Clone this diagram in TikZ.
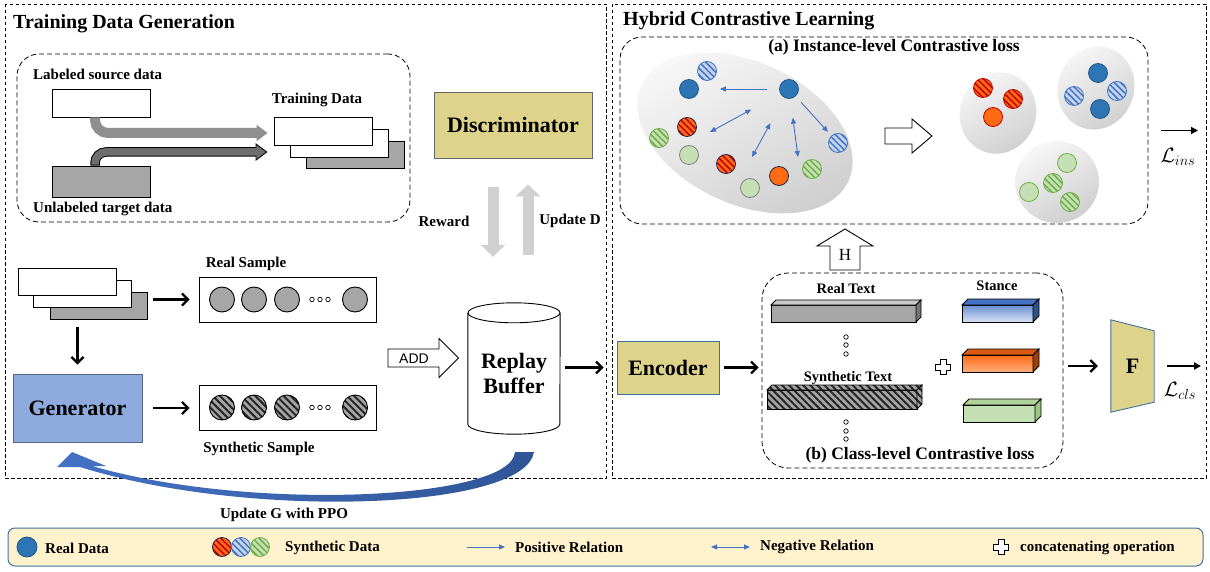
\documentclass[tikz,border=0pt]{standalone}
\usepackage{fontspec}
\setmainfont{Liberation Serif}
\newfontfamily\addfont{Liberation Sans}
\usetikzlibrary{arrows.meta, patterns.meta, calc}

\definecolor{khaki}{HTML}{DDD38B}
\definecolor{genblue}{HTML}{8FAADC}
\definecolor{sheetgray}{HTML}{A6A6A6}
\definecolor{lgray}{HTML}{8F8F8F}
\definecolor{dgray}{HTML}{6E6E6E}
\definecolor{arrowgray}{HTML}{D0D0D0}
\definecolor{realblue}{HTML}{2E75B6}
\definecolor{relblue}{HTML}{4472C4}
\definecolor{paleblue}{HTML}{C5D5EE}
\definecolor{synorange}{HTML}{FF6A13}
\definecolor{synred}{HTML}{C00000}
\definecolor{navy}{HTML}{1F2A50}
\definecolor{palegreen}{HTML}{C5E0B4}
\definecolor{leafgreen}{HTML}{70AD47}
\definecolor{legendfill}{HTML}{FFF2CC}
\definecolor{legendline}{HTML}{41719C}
\definecolor{swooshA}{HTML}{4472C4}
\definecolor{swooshB}{HTML}{2F5597}

\tikzset{
  panel/.style={draw, line width=0.8pt, dash pattern=on 3.5pt off 2.5pt},
  groupbox/.style={draw, line width=0.8pt, dash pattern=on 5pt off 3pt, rounded corners=22pt, inner sep=0pt},
  sheet/.style={draw, line width=0.9pt, fill=white, minimum width=98pt, minimum height=28pt, inner sep=0pt},
  graysheet/.style={sheet, fill=sheetgray},
  title/.style={font=\fontsize{20}{20}\selectfont\bfseries, anchor=base west, inner sep=0pt},
  lbl/.style={font=\fontsize{15}{15}\selectfont\bfseries, inner sep=0pt},
  smalllbl/.style={font=\fontsize{14.5}{14.5}\selectfont\bfseries, inner sep=0pt},
  caption/.style={font=\fontsize{17.5}{17.5}\selectfont\bfseries, inner sep=0pt},
  block/.style={draw=#1, line width=0.9pt, font=\fontsize{22}{25}\selectfont\bfseries, align=center, inner sep=0pt},
  conn/.style={line width=2.2pt, -{Straight Barb[length=6pt,width=12pt]}},
  lossarrow/.style={line width=1.8pt, -{Triangle[length=7pt,width=7pt]}},
  fatarrow/.style={line width=11pt, draw=arrowgray, -{Triangle[length=12pt,width=24pt]}},
  posrel/.style={draw=relblue, line width=0.9pt, -{Triangle[length=6pt,width=5pt]}},
  negrel/.style={draw=relblue, line width=0.9pt, {Triangle[length=6pt,width=5pt]}-{Triangle[length=6pt,width=5pt]}},
  dot/.style={circle, inner sep=0pt, minimum size=19pt, line width=0.8pt},
  hatchdot/.style n args={3}{dot, preaction={fill=#1}, pattern={Lines[angle=-45,distance=4.5pt,line width=1.5pt]}, pattern color=#2, draw=#3},
  realdot/.style={dot, fill=realblue, draw=realblue!75!black},
  bluesyn/.style={hatchdot={paleblue}{relblue}{relblue}},
  redsyn/.style={hatchdot={synorange}{synred}{navy}},
  orangedot/.style={dot, fill=synorange, draw=navy},
  greensyn/.style={hatchdot={palegreen}{leafgreen}{leafgreen}},
  greendot/.style={dot, fill=palegreen, draw=gray},
  grayhatch/.style={preaction={fill=sheetgray}, pattern={Lines[angle=-45,distance=5pt,line width=2pt]}, pattern color=black!85},
  sampledot/.style={circle, draw, line width=0.9pt, fill=sheetgray, minimum size=25pt, inner sep=0pt},
  synsampledot/.style={circle, draw, line width=0.9pt, grayhatch, minimum size=25pt, inner sep=0pt},
  tinydot/.style={circle, draw, line width=0.7pt, fill=white, minimum size=4.5pt, inner sep=0pt},
  blob/.style={top color=gray!6, bottom color=gray!38, shading angle=30},
  lossfont/.style={font=\fontsize{20}{20}\selectfont, inner sep=0pt},
}

% 3D bar: x, y, width, height, depth, front, top, side
\newcommand{\drawslab}[8]{%
  \draw[line width=0.8pt, #6] (#1,#2) rectangle ++(#3,#4);
  \draw[line width=0.8pt, #7] (#1,#2) -- ++(#5,-#5) -- ++(#3,0) -- ++(-#5,#5) -- cycle;
  \draw[line width=0.8pt, #8] (#1+#3,#2) -- ++(#5,-#5) -- ++(0,#4) -- ++(-#5,#5) -- cycle;
}
\newcommand{\plusmark}[2]{%
  \draw[line width=0.8pt, fill=white, shift={(#1,#2)}] (-3,-7.5) -- (3,-7.5) -- (3,-3) -- (7.5,-3) -- (7.5,3) -- (3,3)
    -- (3,7.5) -- (-3,7.5) -- (-3,3) -- (-7.5,3) -- (-7.5,-3) -- (-3,-3) -- cycle;
}

\begin{document}
\begin{tikzpicture}[x=1pt, y=-1pt]
  \useasboundingbox (0,0) rectangle (1210,572);

  % two panels
  \draw[panel] (5,4) rectangle (606,478);
  \draw[panel] (612,4) rectangle (1206,478);
  \node[title] (tdgtitle) at (13,29) {Training Data Generation};
  \node[title] (hcltitle) at (623,26) {Hybrid Contrastive Learning};

  % training data
  \node[groupbox, minimum width=393pt, minimum height=168pt] (tdgroup) at (213.5,138) {};
  \node[lbl, anchor=west] (lsrclbl) at (33,74) {Labeled source data};
  \node[sheet] (lsrc) at (101,103) {};
  \node[graysheet, minimum height=31pt] (utgt) at (101,181.5) {};
  \node[lbl, anchor=west] (utgtlbl) at (33,209) {Unlabeled target data};
  \node[graysheet, minimum height=27pt] (td3) at (355,154.5) {};
  \node[sheet] (td2) at (339,143) {};
  \node[sheet] (td1) at (323,131) {};
  \node[lbl] (tdlbl) at (317,100) {Training Data};
  \draw[line width=10pt, draw=lgray, rounded corners=13pt, -{Triangle[length=11pt,width=16pt]}, shorten >=6pt]
    ([xshift=-6pt]lsrc.south) |- (td1.west |- 0,133);
  \draw[line width=9.5pt, rounded corners=11pt, -{Triangle[length=12pt,width=17pt]}, shorten >=6pt]
    ([xshift=-6pt]utgt.north) |- (td1.west |- 0,152);
  \draw[line width=7.5pt, draw=dgray, rounded corners=11pt, -{Triangle[length=9.5pt,width=13.5pt]}, shorten >=7.7pt, shorten <=0.8pt]
    ([xshift=-6pt]utgt.north) |- (td1.west |- 0,152);

  % discriminator and buffer
  \node[block=black!60, fill=khaki, minimum width=158pt, minimum height=66pt] (disc) at (513,125) {Discriminator};
  \node[minimum width=92pt, minimum height=131pt, inner sep=0pt] (buf) at (514,368.5) {};
  \draw[line width=0.9pt, fill=white] ($(buf.north west)+(0,10)$) -- ($(buf.south west)+(0,-10)$)
    arc[start angle=180, end angle=0, x radius=46, y radius=10] -- ($(buf.north east)+(0,10)$);
  \draw[line width=0.9pt] ($(buf.north)+(0,10)$) ellipse [x radius=46, y radius=10];
  \node[block=none, draw=none] (buflbl) at (514,374) {Replay\\Buffer};
  \draw[fatarrow, shorten <=29pt, shorten >=46pt] ($(disc.south)+(-20,0)$) -- ($(disc.south |- buf.north)+(-20,0)$);
  \draw[fatarrow, shorten <=48pt, shorten >=26pt] ($(disc.south |- buf.north)+(15,0)$) -- ($(disc.south)+(15,0)$);
  \node[lbl] (rwlbl) at (444,221) {Reward};
  \node[lbl] (updlbl) at (570,221) {Update D};

  % samples
  \node[graysheet, minimum width=97pt, minimum height=27pt] (s3) at (98.5,305.5) {};
  \node[sheet, minimum height=27pt] (s2) at (82,293.5) {};
  \node[sheet, minimum height=27pt] (s1) at (67,281.5) {};
  \node[block=genblue!60!black, fill=genblue, minimum width=129pt, minimum height=68pt] (gen) at (77.5,408) {Generator};
  \node[draw, line width=0.9pt, minimum width=177pt, minimum height=45pt, inner sep=0pt] (realbox) at (287.5,299.5) {};
  \node[draw, line width=0.9pt, minimum width=177pt, minimum height=45pt, inner sep=0pt] (synbox) at (287.5,407.5) {};
  \node[lbl] (reallbl) at (246,264) {Real Sample};
  \node[lbl] (synlbl) at (259,449) {Synthetic Sample};
  \foreach \x [count=\i] in {222,254,287,355} {
    \node[sampledot] (rs\i) at (\x,299.5) {};
    \node[synsampledot] (ss\i) at (\x,407.5) {};
  }
  \foreach \x [count=\i] in {312,320,328} {
    \node[tinydot] (rd\i) at (\x,299.5) {};
    \node[tinydot] (sd\i) at (\x,407.5) {};
  }
  \draw[conn, shorten <=6pt, shorten >=9pt] (s3.east |- realbox.west) -- (realbox.west);
  \draw[conn, shorten <=8pt, shorten >=9pt] (s3.south -| gen.north) -- (gen.north);
  \draw[conn, shorten <=11pt, shorten >=9pt] (gen.east) -- (gen.east -| synbox.west);

  % ADD
  \draw[line width=0.9pt, fill=white] (388,349) -- (439,349) -- (439,338.5) -- (458.5,358) -- (439,377.5) -- (439,367) -- (388,367) -- cycle;
  \node[font=\addfont\fontsize{14}{14}\selectfont, inner sep=0pt] (addlbl) at (414,358.5) {ADD};

  % PPO update
  \shade[left color=swooshA, right color=swooshB] (534,452) .. controls (525,510) and (250,520) .. (80,467)
    -- (57,467) -- (72,452) -- (106,466) -- (92,466) .. controls (250,512) and (512,500) .. (515,452) -- cycle;
  \node[lbl] (ppolbl) at (284,515) {Update G with PPO};

  % instance-level
  \node[groupbox, minimum width=528pt, minimum height=187pt] (inst) at (884,130.5) {};
  \node[caption] (instlbl) at (894,47) {(a) Instance-level Contrastive loss};
  \shade[blob, rotate around={-25:(745,133)}] (745,133) ellipse [x radius=114, y radius=71];
  \node[bluesyn] (bh1) at (707,71) {};
  \node[realdot] (bs1) at (689,89) {};
  \node[realdot] (bs2) at (789,89) {};
  \node[redsyn] (rh1) at (687,127) {};
  \node[greensyn] (gh1) at (659,138) {};
  \node[greendot] (gs1) at (689,155) {};
  \node[redsyn] (rh2) at (726,164) {};
  \node[greendot] (gs2) at (750,188) {};
  \node[orangedot] (os1) at (779,176) {};
  \node[greensyn] (gh2) at (812,169) {};
  \node[bluesyn] (bh2) at (838,143) {};
  \coordinate (neg1) at (710,132);
  \coordinate (neg2) at (752,157);
  \coordinate (neg3) at (798,157);
  \draw[posrel, shorten <=12pt, shorten >=21pt] (bs2) -- (bs1);
  \draw[posrel, shorten <=8pt, shorten >=5pt] (bs2) -- (bh2);
  \draw[negrel, shorten <=33pt] (bs2) -- (neg1);
  \draw[negrel, shorten <=29pt] (bs2) -- (neg2);
  \draw[negrel, shorten <=19pt] (bs2) -- (neg3);
  \draw[line width=0.9pt, fill=white] (885,128) -- (912,128) -- (912,119) -- (932,136) -- (912,153) -- (912,144) -- (885,144) -- cycle;

  % clusters
  \shade[blob, rotate around={-20:(998,113)}] (998,113) ellipse [x radius=38, y radius=41];
  \shade[blob, rotate around={-20:(1096,88)}] (1096,88) ellipse [x radius=38, y radius=42];
  \shade[blob] (1057,182) ellipse [x radius=42, y radius=41];
  \node[redsyn, draw=synred] (crh1) at (983,88) {};
  \node[redsyn, draw=synred] (crh2) at (1013,99) {};
  \node[orangedot, draw=synred] (cos1) at (993,117) {};
  \node[realdot] (cbs1) at (1098,73) {};
  \node[bluesyn] (cbh1) at (1074,96) {};
  \node[bluesyn] (cbh2) at (1117,91) {};
  \node[realdot] (cbs2) at (1100,109) {};
  \node[greendot, draw=leafgreen] (cgs1) at (1067,163) {};
  \node[greendot, draw=leafgreen] (cgs2) at (1029,192) {};
  \node[greensyn] (cgh1) at (1053,183) {};
  \node[greensyn] (cgh2) at (1070,202) {};
  \coordinate (insend) at (1198,130.5);
  \draw[lossarrow, shorten <=13pt] (inst.east) -- (insend);
  \node[lossfont] (lins) at (1178,157) {$\mathcal{L}_{ins}$};

  % H
  \draw[line width=0.9pt, fill=white] (830,270) -- (830,246) -- (817,246) -- (845,229) -- (873,246) -- (860,246) -- (860,270) -- cycle;
  \node[font=\fontsize{17}{17}\selectfont, inner sep=0pt] (hlbl) at (845,255) {H};

  % class-level
  \node[block=legendline, fill=khaki, minimum width=102pt, minimum height=53pt] (enc) at (668,367.5) {Encoder};
  \node[groupbox, rounded corners=26pt, minimum width=301pt, minimum height=195pt] (cls) at (912.5,370.5) {};
  \node[caption] (clslbl) at (920,455) {(b) Class-level Contrastive loss};
  \draw[conn, shorten <=5pt, shorten >=13pt] (buf.east |- enc.west) -- (enc.west);
  \draw[conn, shorten <=5pt, shorten >=3pt] (enc.east) -- (enc.east -| cls.west);
  \node[smalllbl] (rtlbl) at (846,289) {Real Text};
  \node[smalllbl] (stlbl) at (848,378) {Synthetic Text};
  \node[smalllbl] (stancelbl) at (997,286) {Stance};
  \drawslab{771}{305}{145}{17}{5}{fill=sheetgray}{fill=sheetgray!60}{fill=sheetgray!70!black}
  \drawslab{767}{390}{150}{19}{5}{grayhatch}{grayhatch}{grayhatch}
  \drawslab{962}{305}{71}{17}{6}{top color=relblue!80, bottom color=paleblue!70}{fill=relblue}{fill=relblue!70!black}
  \drawslab{962}{355}{71}{17}{6}{top color=synorange, bottom color=synorange!55}{fill=synorange!85!black}{fill=synorange!60!black}
  \drawslab{963}{405}{72}{17}{6}{fill=palegreen}{fill=palegreen!75!leafgreen}{fill=leafgreen!70}
  \foreach \y [count=\i] in {337,345,354} \node[tinydot] (vr\i) at (846,\y) {};
  \foreach \y [count=\i] in {422,431,439} \node[tinydot] (vs\i) at (846,\y) {};
  \plusmark{943}{367}

  % classifier
  \node[minimum width=43pt, minimum height=92pt, inner sep=0pt] (fnode) at (1132.5,366) {};
  \draw[line width=0.9pt, draw=legendline, fill=khaki] (fnode.north west) -- ([yshift=-11pt]fnode.north east)
    -- ([yshift=10pt]fnode.south east) -- (fnode.south west) -- cycle;
  \node[font=\fontsize{22}{22}\selectfont\bfseries, inner sep=0pt] (flbl) at (fnode.center) {F};
  \draw[conn, shorten <=5pt, shorten >=13pt] (cls.east |- fnode.west) -- (fnode.west);
  \coordinate (clsend) at (1201,366);
  \draw[lossarrow, shorten <=13pt] (fnode.east) -- (clsend);
  \node[lossfont] (lcls) at (1180,391) {$\mathcal{L}_{cls}$};

  % legend
  \node[draw=legendline, line width=1pt, fill=legendfill, rounded corners=7pt, minimum width=1195pt, minimum height=38pt, inner sep=0pt] (legend) at (605.5,547) {};
  \node[realdot, minimum size=20pt] (lgreal) at (27,547) {};
  \node[lbl, anchor=west] (lgreallbl) at (45,548) {Real Data};
  \node[redsyn] (lgred) at (222,547) {};
  \node[bluesyn] (lgblue) at (241,547) {};
  \node[greensyn] (lggreen) at (260,547) {};
  \node[lbl, anchor=west] (lgsynlbl) at (285,548) {Synthetic Data};
  \node[lbl, anchor=west] (lgpos) at (515,547) {Positive Relation};
  \draw[posrel] ($(lgpos.west)+(-48,0)$) -- ($(lgpos.west)+(-10,0)$);
  \node[lbl, anchor=west] (lgneg) at (760,547) {Negative Relation};
  \draw[negrel] ($(lgneg.west)+(-49,0)$) -- ($(lgneg.west)+(-10,0)$);
  \plusmark{1001}{547}
  \node[lbl, anchor=west] (lgcat) at (1020,548) {concatenating operation};
\end{tikzpicture}
\end{document}
